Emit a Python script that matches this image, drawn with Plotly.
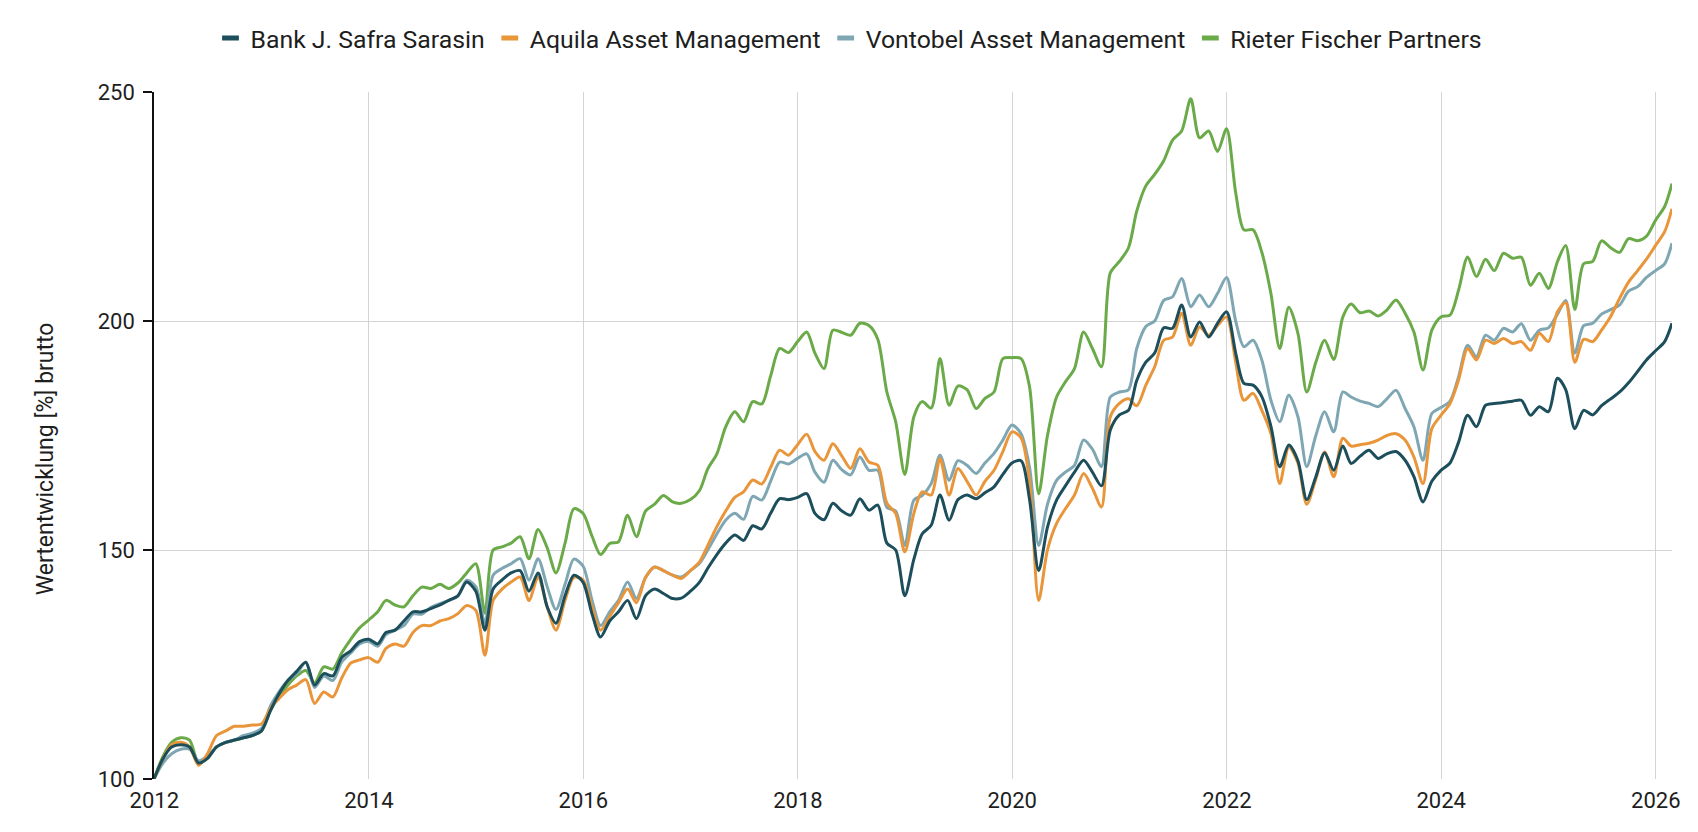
import pandas as pd
import plotly.graph_objects as go

# ---- data (month-end values, index 100 at start) ----
dates = (["2011-12-31"]
         + [d.strftime("%Y-%m-%d") for d in pd.date_range("2012-01-31", "2026-01-31", freq="ME")]
         + ["2026-02-25"])

series_names = ["Bank J. Safra Sarasin", "Aquila Asset Management",
                "Vontobel Asset Management", "Rieter Fischer Partners"]

sarasin = [100,
    104.5, 107, 107.5, 107, 103.5, 104.5, 107, 108, 108.5, 109, 109.5, 110.5,
    115, 118.5, 121.5, 123.5, 125.5, 120.5, 123, 122.5, 126.5, 128, 130, 130.5,
    129.5, 132, 132.5, 134.5, 136.5, 136.5, 137.2, 138, 139, 140, 143, 141,
    132.5, 141.5, 143.5, 145, 145.5, 141, 145, 137.6, 134, 140, 144.5, 143,
    136, 131, 134.5, 136.5, 139, 135, 140, 141.5, 140.5, 139.4, 139.5, 141,
    143, 146, 149, 151.5, 153.3, 152.1, 155.3, 154.6, 158, 161.2, 161, 161.5,
    162.3, 158, 156.6, 160.2, 158.5, 157.6, 161.2, 158.7, 159.8, 151.5, 150, 140,
    148, 153.5, 155.4, 162, 156.5, 161, 162, 161.2, 162.5, 163.8, 166.5, 169,
    169.5, 161, 145.5, 155, 160.9, 164, 167, 169.6, 167, 164, 176.2, 179.5,
    180.5, 187, 191, 193, 198.5, 198.4, 203.5, 196.5, 199.8, 196.5, 199.5, 202,
    193, 186.4, 186, 183.5, 177, 168.2, 172.9, 169.5, 161, 166, 171.2, 167.4,
    172.7, 168.9, 170.5, 171.8, 170, 171, 171.5, 169.6, 166, 160.5, 165, 167.4,
    169, 173.5, 179.4, 176.9, 181.6, 182, 182.2, 182.5, 182.7, 179.4, 181.3, 180.2,
    187.5, 185, 176.5, 180.5, 179.5, 181.5, 183, 184.5, 186.5, 189, 191.5, 193.5,
    195.5, 199.5]

aquila = [100,
    104.5, 107.5, 108, 107, 103, 105.5, 109.5, 110.5, 111.5, 111.5, 111.8, 112,
    115.5, 117.5, 119.5, 120.5, 121.7, 116.5, 119, 117.9, 122, 125.3, 126, 126.5,
    125.5, 128.5, 129.5, 129, 132, 133.5, 133.5, 134.5, 135, 136.1, 137.9, 136.8,
    127, 139, 141.5, 143, 144.1, 139, 144.1, 137.6, 132.5, 139, 144, 143.5,
    137.5, 132.5, 135.5, 138.5, 141.5, 138.5, 144, 146.3, 145.5, 144.5, 143.8, 145.5,
    147.4, 151, 155.1, 158.5, 161.5, 162.7, 165.3, 164.4, 168, 171.8, 170.7, 173,
    175.3, 171.5, 169.6, 173.2, 170.5, 167.8, 172.1, 169.2, 168.5, 160.2, 158, 149.6,
    158, 162.7, 162, 170, 162, 167.8, 165, 162, 165, 167.4, 171.5, 175.8,
    174.5, 165, 139, 150, 155.8, 159, 162, 166.7, 163.5, 159.4, 179.1, 182,
    183, 181.5, 186, 190, 195.8, 196.5, 201.7, 194.7, 198.7, 196.9, 199, 200.9,
    191, 182.7, 184.2, 180.5, 175.4, 164.5, 172.5, 169, 160, 165.5, 171.4, 166,
    174.4, 172.7, 173, 173.3, 174, 175, 175.4, 174, 170.3, 164.5, 176.5, 179.4,
    182, 187.1, 194, 191.5, 195.8, 195.1, 196.2, 195.1, 195.5, 193.6, 197.3, 195.5,
    202, 204, 191, 196, 195.5, 198, 201, 205, 208.5, 211, 213.5, 216.5,
    219.5, 224.5]

vontobel = [100,
    103.5, 105.5, 106.5, 106.5, 104, 105, 107, 108, 108.5, 109.5, 110, 111,
    116, 119, 121.5, 123, 125.5, 120, 122.5, 121.5, 125.5, 127.5, 129.5, 130,
    129, 131.5, 132.5, 133.5, 136, 136, 137.5, 138.3, 139, 140, 143.4, 142,
    134, 144.5, 146, 147, 148.1, 143.4, 148.1, 142, 137, 142.5, 148, 146.5,
    139, 133.5, 136.5, 139, 143, 139.4, 144, 146.3, 145.5, 144.5, 144.1, 145.5,
    147.1, 150, 153.5, 156.5, 158, 156.7, 161.7, 160.9, 165, 169.2, 168.8, 170,
    171, 167, 164.8, 169.6, 167.5, 166.4, 170.3, 167.4, 167.4, 159.3, 158.5, 151,
    160.9, 161.9, 164.5, 170.7, 165.2, 169.5, 168.5, 166.7, 169, 171.1, 174, 177.3,
    175.4, 168, 151, 160, 165.2, 167, 168.5, 174, 172, 168.2, 183.4, 184.5,
    185, 194, 198.8, 200, 204.5, 205.3, 209.3, 203.1, 205.7, 203.1, 206, 209.5,
    200, 194.4, 195.8, 191.5, 182.7, 178, 183.8, 179.1, 168.2, 175, 180.2, 175.8,
    184.5, 183.4, 182.5, 182, 181.3, 183, 184.9, 180.9, 176.9, 169.6, 179.8, 181.1,
    182.5, 187.8, 194.7, 192.2, 196.9, 195.8, 198.4, 197.6, 199.4, 195.8, 198, 198.5,
    201.5, 204.5, 193, 199, 199.5, 201.5, 202.5, 203.5, 206.5, 207.5, 209.5, 211,
    212.5, 217]

rieter = [100,
    105, 108, 109, 108.5, 103.5, 104.5, 107, 108, 108.5, 109, 109.5, 110.5,
    115, 118, 120.5, 122.5, 123.7, 121, 124.5, 124, 127.5, 130.5, 133, 134.7,
    136.5, 139, 138, 137.6, 140, 141.9, 141.6, 142.5, 141.6, 142.8, 145, 147,
    136.2, 150, 150.7, 151.5, 152.9, 148.1, 154.5, 150.5, 145, 151.5, 159, 158,
    153, 149, 151.4, 151.8, 157.6, 152.9, 158.5, 160, 161.9, 160.5, 160.2, 161,
    163, 167.7, 171, 176.9, 180.2, 178, 182.4, 181.9, 188, 194, 193.1, 195.5,
    197.6, 193, 189.6, 198, 197.5, 196.9, 199.5, 199, 196, 184.5, 178, 166.5,
    179.1, 182.4, 181, 191.8, 181.6, 185.8, 185, 180.9, 183.1, 184.5, 191.8, 192,
    191.8, 185.6, 162.3, 175, 183.4, 186.7, 189.6, 197.6, 194, 190, 210.5, 213,
    216, 224, 229.5, 232, 235, 239.5, 241.5, 248.5, 240, 241.5, 237, 242,
    228, 219.9, 219.9, 215, 206, 194, 203, 197.3, 184.5, 191, 195.8, 191.6,
    200.9, 203.7, 201.8, 202.2, 201.1, 202.4, 204.6, 201.7, 197.6, 189.3, 198, 200.9,
    201.3, 206.7, 214, 209.7, 213.5, 211, 214.8, 213.7, 213.9, 207.8, 210.4, 207.1,
    213, 216.5, 202.5, 212.5, 213, 217.5, 216, 215, 218, 217.5, 218.5, 222,
    225, 230]

colors = ["#1c4e5c", "#e9953a", "#7fa7b3", "#6aaa48"]
y_ticks = [100, 150, 200, 250]
x_ticks = ["2012-01-01", "2014-01-01", "2016-01-01", "2018-01-01",
           "2020-01-01", "2022-01-01", "2024-01-01", "2026-01-01"]
x_labels = ["2012", "2014", "2016", "2018", "2020", "2022", "2024", "2026"]
y_title = "Wertentwicklung [%] brutto"

values = [sarasin, aquila, vontobel, rieter]

fig = go.Figure()

# lines (drawn so that Sarasin ends on top)
for idx in [3, 2, 1, 0]:
    fig.add_trace(go.Scatter(
        x=dates, y=values[idx], mode="lines", name=series_names[idx],
        line=dict(color=colors[idx], width=3, shape="spline", smoothing=0.8),
        showlegend=False, hoverinfo="skip"))

# legend entries with small rectangular keys
for idx in range(4):
    fig.add_trace(go.Scatter(
        x=[None], y=[None], mode="markers", name=series_names[idx],
        marker=dict(symbol="line-ew", size=12, color=colors[idx],
                    line=dict(color=colors[idx], width=5)),
        showlegend=True))

font_family = "Roboto, 'Noto Sans', Arial, sans-serif"
text_color = "#1e1e1e"

fig.update_layout(
    width=1698, height=832, autosize=False,
    paper_bgcolor="white", plot_bgcolor="white",
    margin=dict(l=154, r=26, t=92, b=53),
    font=dict(family=font_family, color=text_color, size=22),
    legend=dict(orientation="h", xref="container", yref="container",
                x=0.5, xanchor="center", y=0.954, yanchor="middle",
                font=dict(size=24.8, color=text_color),
                itemwidth=30, traceorder="normal", bgcolor="rgba(0,0,0,0)"),
    xaxis=dict(type="date", range=["2011-12-31", "2026-02-25"],
               tickvals=x_ticks, ticktext=x_labels,
               showgrid=True, gridcolor="#d3d3d3", gridwidth=1,
               showline=False, zeroline=False, ticks="",
               tickfont=dict(size=22, color=text_color),
               ticklabelstandoff=6),
    yaxis=dict(range=[100, 250], tickvals=y_ticks,
               showgrid=True, gridcolor="#d3d3d3", gridwidth=1,
               zeroline=False,
               showline=True, linecolor="#111111", linewidth=1.5,
               ticks="outside", ticklen=9, tickwidth=1.5, tickcolor="#111111",
               tickfont=dict(size=22, color=text_color),
               ticklabelstandoff=4),
    annotations=[dict(text=y_title, textangle=-90, showarrow=False,
                      xref="paper", yref="paper", x=-0.0715, y=0.466,
                      xanchor="center", yanchor="middle",
                      font=dict(size=23, color=text_color))],
)

fig.write_html("out.html", config={"displayModeBar": False},
               post_script="document.body.style.margin='0';")
